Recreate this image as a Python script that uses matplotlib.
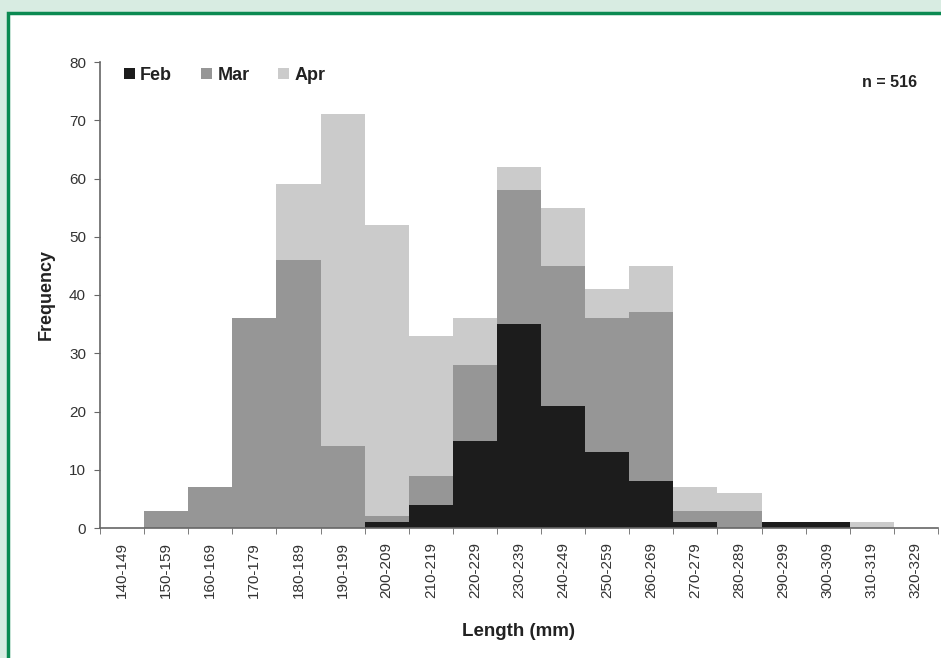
import matplotlib.pyplot as plt
import numpy as np
from matplotlib.patches import Rectangle

plt.rcParams['font.family'] = ['Liberation Sans', 'DejaVu Sans']

classes = ['140-149', '150-159', '160-169', '170-179', '180-189', '190-199',
           '200-209', '210-219', '220-229', '230-239', '240-249', '250-259',
           '260-269', '270-279', '280-289', '290-299', '300-309', '310-319',
           '320-329']
feb = [0, 0, 0, 0, 0, 0, 1, 4, 15, 35, 21, 13, 8, 1, 0, 1, 1, 0, 0]
mar = [0, 3, 7, 36, 46, 14, 1, 5, 13, 23, 24, 23, 29, 2, 3, 0, 0, 0, 0]
apr = [0, 0, 0, 0, 13, 57, 50, 24, 8, 4, 10, 5, 8, 4, 3, 0, 0, 1, 0]

fig = plt.figure(figsize=(9.41, 6.58), dpi=100)
fig.patch.set_facecolor('#d8ece2')
# white panel with green frame, kept behind the axes
fig.patches.append(Rectangle((7.5 / 941, -0.05), 1.1, (658 - 12.5) / 658 + 0.05,
                             transform=fig.transFigure, facecolor='white',
                             edgecolor='#0b8a52', linewidth=2.5, zorder=-10))

ax = fig.add_axes([100 / 941, 130 / 658, 838 / 941, 466 / 658])
ax.set_facecolor('none')

x = np.arange(len(classes))
feb = np.array(feb)
mar = np.array(mar)
apr = np.array(apr)
ax.bar(x, feb, width=1.0, color='#1c1c1c', label='Feb')
ax.bar(x, mar, width=1.0, bottom=feb, color='#969696', label='Mar')
ax.bar(x, apr, width=1.0, bottom=feb + mar, color='#cbcbcb', label='Apr')

ax.set_xlim(-0.5, len(classes) - 0.5)
ax.set_ylim(0, 80)
ax.set_yticks(range(0, 81, 10))
ax.set_xticks(x)
ax.set_xticklabels(classes, rotation=90)
ax.set_xticks(np.arange(-0.5, len(classes), 1.0), minor=True)
ax.tick_params(axis='x', which='major', length=0, pad=10, labelsize=11, labelcolor='#333333')
ax.tick_params(axis='x', which='minor', length=4, direction='out', color='#666666')
ax.tick_params(axis='y', length=4, direction='out', color='#666666', labelsize=11,
               labelcolor='#333333', pad=6)

for s in ['top', 'right']:
    ax.spines[s].set_visible(False)
for s in ['left', 'bottom']:
    ax.spines[s].set_color('#666666')
    ax.spines[s].set_linewidth(1.2)

ax.set_ylabel('Frequency', fontsize=13, fontweight='bold', color='#222222', labelpad=10)
ax.set_xlabel('Length (mm)', fontsize=13.5, fontweight='bold', color='#222222', labelpad=18)

leg = ax.legend(loc='upper left', ncol=3, frameon=False, fontsize=13,
                handlelength=0.6, handleheight=0.6, handletextpad=0.3,
                columnspacing=1.6, borderaxespad=0.0, bbox_to_anchor=(0.02, 1.005))
for t in leg.get_texts():
    t.set_fontweight('bold')
    t.set_color('#222222')

ax.text(0.975, 0.955, 'n = 516', transform=ax.transAxes, ha='right', va='center',
        fontsize=11.5, fontweight='bold', color='#222222')

fig.savefig('out.png', dpi=100, facecolor=fig.get_facecolor())
